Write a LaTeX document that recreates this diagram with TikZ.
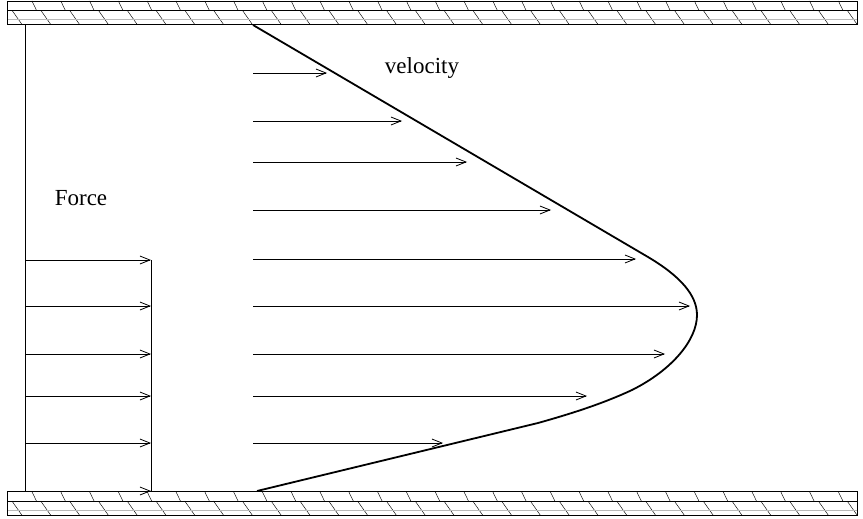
\documentclass[tikz,border=0pt]{standalone}
\usepackage{fontspec}
\setmainfont{Liberation Serif}
\usetikzlibrary{arrows.meta}
\begin{document}
\begin{tikzpicture}[x=1pt,y=-1pt,
  arr/.style={line width=0.8pt,-{Straight Barb[length=10pt,width=8pt,line width=0.8pt]}},
  wall/.style={line width=0.7pt},
  hatch/.style={line width=0.45pt},
  grayline/.style={line width=1.3pt,gray!55},
  plate/.style={line width=0.8pt},
  profile/.style={line width=1.8pt,line join=round},
  lbl/.style={font=\fontsize{23}{27}\selectfont, inner sep=0pt}]
\useasboundingbox (0,0) rectangle (863,519);

% walls
\foreach \yo in {1,491.8}{
  \begin{scope}[shift={(0,\yo)}]
    \begin{scope}
      \clip (7,0) rectangle (857,23.5);
      \foreach \k in {0,...,29}{
        \draw[hatch] ({32+28.8*\k},0) -- ({36.5+28.8*\k},9.3);
        \draw[hatch] ({12+28.8*\k},9.3) -- ({22+28.8*\k},23.5);
      }
    \end{scope}
    \draw[grayline] (7,18.8) -- (857,18.8);
    \draw[wall] (7,9.3) -- (857,9.3);
    \draw[wall] (7,0) rectangle (857,23.5);
  \end{scope}
}

% force plate
\coordinate (pt) at (25,24.5);
\coordinate (pb) at (25,491.8);
\coordinate (qt) at (151,260);
\coordinate (qb) at (151,491.8);
\draw[plate] (pt) -- (pb);
\draw[plate] (qt) -- (qb);
\foreach \y [count=\i] in {260,306,354,396,443,491}{
  \coordinate (fs\i) at (25,\y);
  \coordinate (fe\i) at (151,\y);
  \draw[arr] (fs\i) -- (fe\i);
}

% velocity arrows
\foreach \y/\xe [count=\i] in {73/327,121/402,162/467,210/551,259/636,306/690,354/665,396/587,443/443}{
  \coordinate (vs\i) at (253,\y);
  \coordinate (ve\i) at (\xe,\y);
  \draw[arr] (vs\i) -- (ve\i);
}

% velocity profile
\draw[profile] (253,25) -- (648,257)
  .. controls (680,276) and (697,295) .. (697,315)
  .. controls (697,340) and (672,370) .. (632,390)
  .. controls (602,404) and (570,414) .. (538,423)
  -- (257,491);

% labels
\node[lbl] (force) at (81,198) {Force};
\node[lbl] (velocity) at (422,68) {velocity};
\end{tikzpicture}
\end{document}
